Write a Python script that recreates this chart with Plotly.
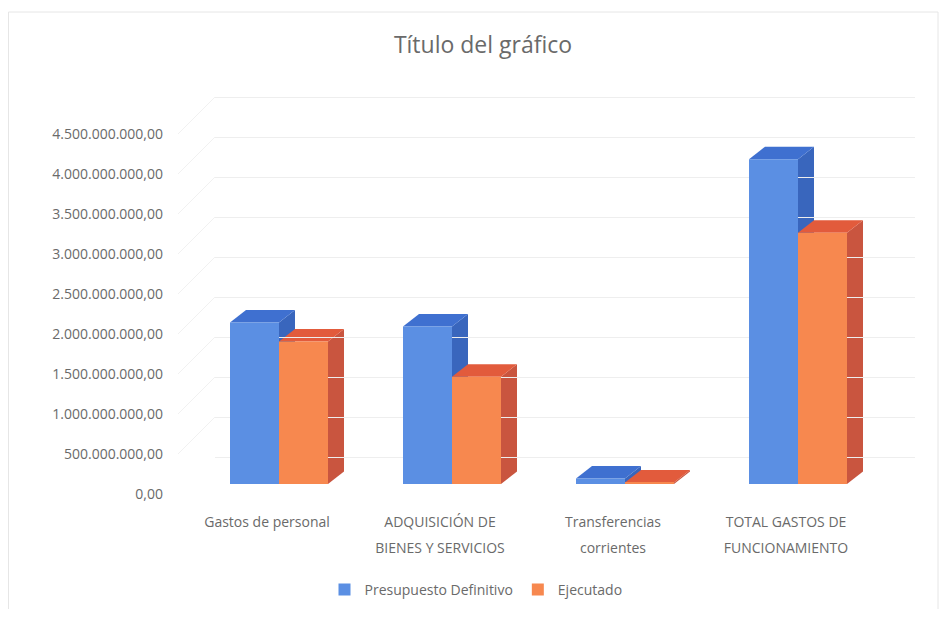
import plotly.graph_objects as go

# ---- data ----
categories = ["Gastos de personal", "ADQUISICIÓN DE\nBIENES Y SERVICIOS",
              "Transferencias\ncorrientes", "TOTAL GASTOS DE\nFUNCIONAMIENTO"]
presupuesto = [2.02e9, 1.97e9, 0.07e9, 4.06e9]
ejecutado = [1.78e9, 1.34e9, 0.02e9, 3.14e9]
series_names = ["Presupuesto Definitivo", "Ejecutado"]
y_ticks = [i * 500_000_000 for i in range(10)]

cat_line1 = [c.split("\n")[0] for c in categories]
cat_line2 = [(c.split("\n") + [""])[1] for c in categories]

# ---- geometry / style (not data) ----
OFF = 8                       # page body margin
W, H = 947 - 2 * OFF, 617 - 2 * OFF

def fx(xpx):                  # reference x pixel -> paper fraction
    return (xpx - OFF) / W

def fy(ypx):                  # reference y pixel -> paper fraction
    return 1 - (ypx - OFF) / H

PX_PER_UNIT = 173.0           # pixels per category
VAL_PER_PX = 12.5e6           # value per pixel
x_range = [(215 - 267) / PX_PER_UNIT, (915 - 267) / PX_PER_UNIT]
base_px, top_px = 484, 60
plot_h = base_px - top_px
y_span = plot_h * VAL_PER_PX
bar_w = 49 / PX_PER_UNIT
off_blue = -37 / PX_PER_UNIT
off_orange = off_blue + bar_w
DX = 16 / PX_PER_UNIT         # depth offset in x units
DY = 12.5 * VAL_PER_PX        # depth offset in y units
label_px = 10                 # labels sit 10 px below the bar base
grid_shift = 27 * VAL_PER_PX  # back wall sits 27 px above the bar base

blue_front, blue_top, blue_side = "#5b8fe3", "#3f70d0", "#3966bd"
orange_front, orange_top, orange_side = "#f7884f", "#e25b3c", "#c9553f"
text_col = "#6a6a6a"
font_fam = "Open Sans, Noto Sans, sans-serif"

xs = list(range(len(categories)))

fig = go.Figure()
fig.add_trace(go.Bar(x=xs, y=presupuesto, name=series_names[0], offset=off_blue, width=bar_w,
                     marker=dict(color=blue_front, line=dict(width=0))))
fig.add_trace(go.Bar(x=xs, y=ejecutado, name=series_names[1], offset=off_orange, width=bar_w,
                     marker=dict(color=orange_front, line=dict(width=0))))
# helper traces establishing the extra axes
fig.add_trace(go.Scatter(x=[None], y=[None], yaxis="y2", showlegend=False, hoverinfo="skip"))
fig.add_trace(go.Scatter(x=[None], y=[None], yaxis="y3", showlegend=False, hoverinfo="skip"))
fig.add_trace(go.Scatter(x=[None], y=[None], xaxis="x2", showlegend=False, hoverinfo="skip"))

shapes = []

def poly(pts, color):
    path = "M " + " L ".join(f"{px},{py}" for px, py in pts) + " Z"
    return dict(type="path", path=path, xref="x", yref="y", fillcolor=color,
                line=dict(width=0), layer="below")

for i, x in enumerate(xs):
    for vals, off, ctop, cside in ((presupuesto, off_blue, blue_top, blue_side),
                                   (ejecutado, off_orange, orange_top, orange_side)):
        v = vals[i]
        xl = x + off
        xr = xl + bar_w
        shapes.append(poly([(xr, 0), (xr, v), (xr + DX, v + DY), (xr + DX, DY)], cside))
        shapes.append(poly([(xl, v), (xr, v), (xr + DX, v + DY), (xl + DX, v + DY)], ctop))

# faint side-wall diagonals joining the labels to the back-wall grid
for t in y_ticks[1:]:
    shapes.append(dict(type="line", xref="paper", yref="y",
                       x0=fx(178), y0=t - label_px * VAL_PER_PX, x1=fx(215), y1=t + grid_shift,
                       line=dict(color="#f1f1f1", width=1), layer="below"))

# faint outer border
shapes.append(dict(type="rect", xref="paper", yref="paper", x0=fx(8.5), x1=fx(938), y0=fy(612), y1=fy(12),
                   line=dict(color="#e6e6e6", width=1), layer="below"))

axis_common = dict(showgrid=False, zeroline=False, showline=False, ticks="", automargin=False)

fig.update_layout(
    width=W, height=H, autosize=False,
    margin=dict(l=0, r=0, t=0, b=0, pad=0),
    paper_bgcolor="white", plot_bgcolor="rgba(0,0,0,0)",
    separators=",.",
    barmode="overlay",
    font=dict(family=font_fam, color=text_col, size=14),
    title=dict(text="Título del gráfico", x=fx(483), xanchor="center", y=fy(45), yanchor="middle",
               font=dict(size=23, color=text_col, family=font_fam)),
    xaxis=dict(domain=[fx(215), fx(915)], range=x_range, tickvals=xs, ticktext=cat_line1,
               anchor="free", position=fy(512), tickfont=dict(size=14, color=text_col),
               **axis_common),
    xaxis2=dict(overlaying="x", range=x_range, tickvals=xs, ticktext=cat_line2,
                anchor="free", position=fy(538), side="bottom",
                tickfont=dict(size=14, color=text_col), **axis_common),
    yaxis=dict(domain=[fy(base_px), fy(top_px)], range=[0, y_span], showticklabels=False,
               **axis_common),
    yaxis2=dict(domain=[fy(base_px + label_px), fy(top_px + label_px)], range=[0, y_span],
                anchor="free", position=fx(163), side="left",
                tickvals=y_ticks, tickformat=",.2f",
                tickfont=dict(size=14, color=text_col), **axis_common),
    yaxis3=dict(overlaying="y", anchor="x", range=[-grid_shift, y_span - grid_shift],
                tickvals=y_ticks, showticklabels=False, showgrid=True, gridcolor="#eeeeee",
                gridwidth=1, zeroline=False, ticks="", showline=False, automargin=False),
    legend=dict(orientation="h", x=fx(476), xanchor="center", y=fy(590), yanchor="middle",
                font=dict(size=14, color=text_col), bgcolor="rgba(0,0,0,0)", itemwidth=30),
    shapes=shapes,
)

fig.write_html("out.html")
